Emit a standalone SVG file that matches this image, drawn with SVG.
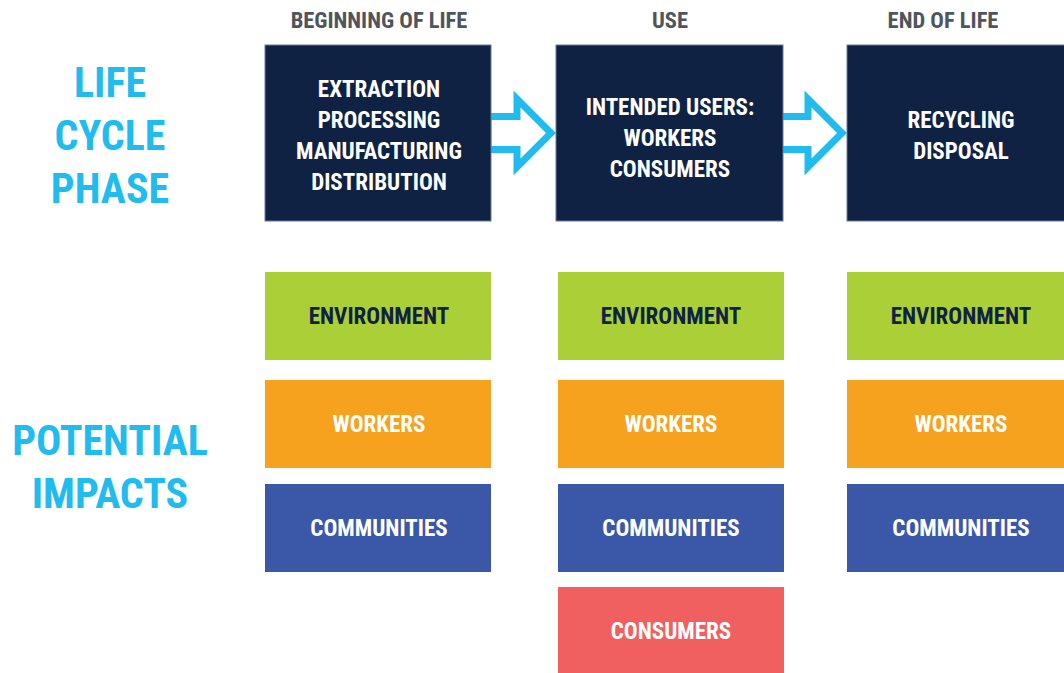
<svg xmlns="http://www.w3.org/2000/svg" width="1064" height="673" viewBox="0 0 1064 673">
<style>
text{font-family:"Roboto Condensed","Liberation Sans Narrow","DejaVu Sans Condensed",sans-serif;font-weight:bold;text-anchor:middle}
.hdr{fill:#50555d;font-size:22.5px}
.big{fill:#22bbee;font-size:42px}
.ph{fill:#0f2244;stroke:#6a7a99;stroke-width:1}
.wt{fill:#ffffff;font-size:23px}
.nv{fill:#0f2244;font-size:23px}
.env{fill:#aacf37}
.wrk{fill:#f6a21e}
.com{fill:#3b57a7}
.con{fill:#f06060}
.arr{fill:#ffffff;stroke:#22bbee;stroke-width:7;stroke-linejoin:miter}
</style>
<rect width="1064" height="673" fill="#ffffff"/>
<g id="labels">
<text class="hdr" x="379" y="28">BEGINNING OF LIFE</text>
<text class="hdr" x="670" y="28">USE</text>
<text class="hdr" x="943" y="28">END OF LIFE</text>
<text class="big" x="110" y="97">LIFE</text>
<text class="big" x="110" y="150">CYCLE</text>
<text class="big" x="110" y="203">PHASE</text>
<text class="big" x="110" y="455">POTENTIAL</text>
<text class="big" x="110" y="508">IMPACTS</text>
</g>
<g id="connectors">
<polygon class="arr" points="488,116.5 517,116.5 517,99 551,133 517,167 517,149.5 488,149.5"/>
<polygon class="arr" points="779,116.5 808,116.5 808,99 842,133 808,167 808,149.5 779,149.5"/>
</g>
<g id="beginning">
<rect class="ph" x="265" y="45" width="226" height="176"/>
<text class="wt" x="379" y="97">EXTRACTION</text>
<text class="wt" x="379" y="128">PROCESSING</text>
<text class="wt" x="379" y="159">MANUFACTURING</text>
<text class="wt" x="379" y="190">DISTRIBUTION</text>
</g>
<g id="use">
<rect class="ph" x="556" y="45" width="227" height="176"/>
<text class="wt" x="670" y="115">INTENDED USERS:</text>
<text class="wt" x="670" y="146">WORKERS</text>
<text class="wt" x="670" y="177">CONSUMERS</text>
</g>
<g id="end">
<rect class="ph" x="847" y="45" width="230" height="176"/>
<text class="wt" x="961" y="128">RECYCLING</text>
<text class="wt" x="961" y="159">DISPOSAL</text>
</g>
<g id="env1"><rect class="env" x="265" y="272" width="226" height="88"/><text class="nv" x="379" y="324">ENVIRONMENT</text></g>
<g id="env2"><rect class="env" x="558" y="272" width="226" height="88"/><text class="nv" x="671" y="324">ENVIRONMENT</text></g>
<g id="env3"><rect class="env" x="847" y="272" width="230" height="88"/><text class="nv" x="961" y="324">ENVIRONMENT</text></g>
<g id="wrk1"><rect class="wrk" x="265" y="380" width="226" height="88"/><text class="wt" x="379" y="432">WORKERS</text></g>
<g id="wrk2"><rect class="wrk" x="558" y="380" width="226" height="88"/><text class="wt" x="671" y="432">WORKERS</text></g>
<g id="wrk3"><rect class="wrk" x="847" y="380" width="230" height="88"/><text class="wt" x="961" y="432">WORKERS</text></g>
<g id="com1"><rect class="com" x="265" y="484" width="226" height="88"/><text class="wt" x="379" y="536">COMMUNITIES</text></g>
<g id="com2"><rect class="com" x="558" y="484" width="226" height="88"/><text class="wt" x="671" y="536">COMMUNITIES</text></g>
<g id="com3"><rect class="com" x="847" y="484" width="230" height="88"/><text class="wt" x="961" y="536">COMMUNITIES</text></g>
<g id="con2"><rect class="con" x="558" y="587" width="226" height="86"/><text class="wt" x="671" y="639">CONSUMERS</text></g>
</svg>
